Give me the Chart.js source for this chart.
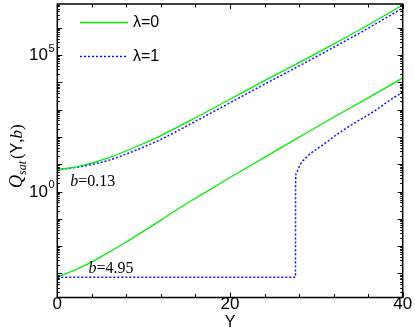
<!DOCTYPE html>
<html><head><meta charset="utf-8">
<script src="https://cdn.jsdelivr.net/npm/chart.js@4"></script>
<style>html,body{margin:0;padding:0;background:#fff}canvas{display:block}</style>
</head><body>
<canvas id="c" width="415" height="335"></canvas>
<script>
// Rapidity values Y and saturation scale Q_sat(Y,b)
const Y_up = [0, 3, 6, 9, 12, 16, 20, 24, 28, 32, 36, 40];
const Q_l0_b013 = [6.17, 9.12, 17.4, 41.7, 112, 501, 2399, 11480, 52480, 251190, 1.26e6, 6.76e6];
const Q_l1_b013 = [6.17, 8.51, 14.1, 31.6, 81.3, 372, 1778, 8511, 39810, 190550, 9.55e5, 5.25e6];
const Y_low_l0 = [0, 2, 4, 6, 8, 10, 12, 14, 17, 20, 24, 28, 32, 36, 40];
const Q_l0_b495 = [7.3e-4, 1.32e-3, 2.63e-3, 6.03e-3, 1.41e-2, 3.55e-2, 8.91e-2, 0.234, 0.871, 3.24, 17.8, 97.7, 525, 2692, 14450];
const Y_low_l1 = [0, 27.58, 27.6, 27.7, 28.1, 28.9, 30.8, 32.8, 34.7, 36.6, 38.55, 40];
const Q_l1_b495 = [7.3e-4, 7.3e-4, 2.82, 5.01, 9.33, 18.6, 52.5, 151, 363, 832, 2239, 4365];
const xTickLabels = [0, 20, 40];
const yTickExponents = [0, 5];
const legendLabels = ['λ=0', 'λ=1'];
const curveLabels = [{b: '0.13', Y: 1.5, Q: 1.6}, {b: '4.95', Y: 3.6, Q: 1.0e-3}];

const pts = (xs, ys) => xs.map((v, i) => ({x: v, y: ys[i]}));
const GREEN = '#00f000', BLUE = '#1010ff';
const mk = (label, data, color, dash) => ({
  label, data, borderColor: color, borderWidth: dash.length ? 1.5 : 1.3, borderDash: dash,
  pointRadius: 0, showLine: true, fill: false, cubicInterpolationMode: 'monotone'
});

const deco = {
  id: 'deco',
  afterDraw(chart) {
    const {ctx, chartArea: {left, right, top, bottom}, scales: {x, y}} = chart;
    ctx.save();
    ctx.strokeStyle = '#000'; ctx.lineWidth = 1.5;
    ctx.strokeRect(left, top, right - left, bottom - top);
    ctx.lineWidth = 1;
    ctx.beginPath();
    for (let v = 0; v <= 40; v += 4) {
      const px = Math.round(x.getPixelForValue(v)) + 0.5;
      const len = v % 20 === 0 ? 5 : 3.5;
      ctx.moveTo(px, bottom); ctx.lineTo(px, bottom - len);
      ctx.moveTo(px, top); ctx.lineTo(px, top + len);
    }
    for (let e = -5; e <= 7; e++) {
      for (let k = 1; k <= 9; k++) {
        const val = k * Math.pow(10, e);
        if (val < y.min || val > y.max) continue;
        const py = Math.round(y.getPixelForValue(val)) + 0.5;
        const len = k === 1 ? 5 : 2.5;
        ctx.moveTo(left, py); ctx.lineTo(left + len, py);
        ctx.moveTo(right, py); ctx.lineTo(right - len, py);
      }
    }
    ctx.stroke();
    ctx.fillStyle = '#000';
    // x tick labels
    ctx.font = "17px 'Liberation Sans', Arial, sans-serif";
    ctx.textAlign = 'center'; ctx.textBaseline = 'middle';
    xTickLabels.forEach(v => ctx.fillText(String(v), x.getPixelForValue(v), bottom + 7));
    // x title
    ctx.font = "16px 'Liberation Sans', Arial, sans-serif";
    ctx.fillText('Y', x.getPixelForValue(20), bottom + 25);
    // y tick labels 10^n
    yTickExponents.forEach(n => {
      const py = y.getPixelForValue(Math.pow(10, n));
      ctx.font = "17px 'Liberation Sans', Arial, sans-serif";
      ctx.textAlign = 'right'; ctx.textBaseline = 'middle';
      ctx.fillText('10', 48, py + 0.5);
      ctx.font = "11px 'Liberation Sans', Arial, sans-serif";
      ctx.textAlign = 'left';
      ctx.fillText(String(n), 48.5, py - 6.5);
    });
    // y title, rotated
    ctx.save();
    ctx.translate(22, 188);
    ctx.rotate(-Math.PI / 2);
    ctx.textAlign = 'left'; ctx.textBaseline = 'alphabetic';
    let cx = 0;
    const seg = (t, font, dy) => { ctx.font = font; ctx.fillText(t, cx, dy); cx += ctx.measureText(t).width; };
    seg('Q', "italic 18px 'Liberation Serif', 'Times New Roman', serif", 0);
    seg('sat', "italic 12px 'Liberation Serif', 'Times New Roman', serif", 4);
    cx += 2;
    seg('(', "17px 'Liberation Serif', 'Times New Roman', serif", 0);
    seg('Y', "16px 'Liberation Sans', Arial, sans-serif", 0);
    seg(',', "17px 'Liberation Serif', 'Times New Roman', serif", 0);
    seg('b', "italic 17px 'Liberation Serif', 'Times New Roman', serif", 0);
    seg(')', "17px 'Liberation Serif', 'Times New Roman', serif", 0);
    ctx.restore();
    // curve labels
    curveLabels.forEach(c => {
      const px = x.getPixelForValue(c.Y), py = y.getPixelForValue(c.Q);
      ctx.textAlign = 'left'; ctx.textBaseline = 'alphabetic';
      ctx.font = "italic 16px 'Liberation Serif', 'Times New Roman', serif";
      ctx.fillText('b', px, py);
      const w = ctx.measureText('b').width;
      ctx.font = "16px 'Liberation Serif', 'Times New Roman', serif";
      ctx.fillText('=' + c.b, px + w, py);
    });
    // legend
    const ly = [22.5, 56.5];
    [[GREEN, [], 1.3], [BLUE, [2, 2], 1.5]].forEach((s, i) => {
      ctx.strokeStyle = s[0]; ctx.lineWidth = s[2]; ctx.setLineDash(s[1]);
      ctx.beginPath(); ctx.moveTo(80, ly[i]); ctx.lineTo(128, ly[i]); ctx.stroke();
      ctx.setLineDash([]);
      ctx.font = "16px 'Liberation Sans', Arial, sans-serif";
      ctx.textAlign = 'left'; ctx.textBaseline = 'middle';
      ctx.fillText(legendLabels[i], 133, ly[i] + 0.5);
    });
    ctx.restore();
  }
};

new Chart(document.getElementById('c'), {
  type: 'scatter',
  data: {
    datasets: [
      mk('λ=0, b=0.13', pts(Y_up, Q_l0_b013), GREEN, []),
      mk('λ=1, b=0.13', pts(Y_up, Q_l1_b013), BLUE, [2, 2]),
      mk('λ=0, b=4.95', pts(Y_low_l0, Q_l0_b495), GREEN, []),
      mk('λ=1, b=4.95', pts(Y_low_l1, Q_l1_b495), BLUE, [2, 2])
    ]
  },
  options: {
    responsive: false, animation: false, devicePixelRatio: 1,
    layout: {padding: {left: 57.3, right: 12.3, top: 4, bottom: 37.5}},
    plugins: {legend: {display: false}, tooltip: {enabled: false}},
    scales: {
      x: {type: 'linear', min: 0, max: 40, display: false},
      y: {type: 'logarithmic', min: 1.31e-4, max: 7.38e6, display: false}
    }
  },
  plugins: [deco]
});
</script>
</body></html>
